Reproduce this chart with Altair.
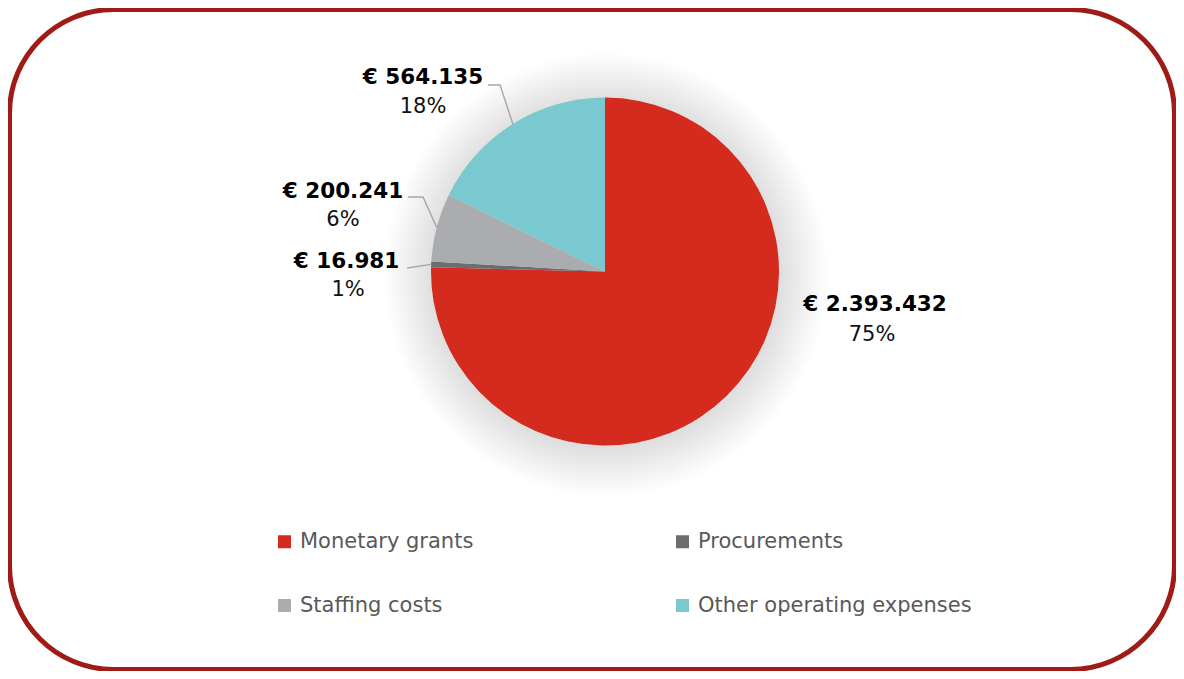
import math
import altair as alt
import pandas as pd

# ---------------- data ----------------
categories = ["Monetary grants", "Procurements", "Staffing costs", "Other operating expenses"]
amounts = [2393432, 16981, 200241, 564135]
colors = ["#D52B1E", "#6B6D70", "#ABACAF", "#7AC9D0"]

# ---------------- layout / style ----------------
W, H = 1168, 663
CX, CY, R = 597, 263.5, 174
FONT = "DejaVu Sans"

# label placement relative to the slice's outer mid point (style, not data)
LABEL_LAYOUT = {
    "Monetary grants": dict(bold=(148.5, -91), pct=(145.5, -61), leader=[]),
    "Procurements": dict(bold=(-84.6, -2.3), pct=(-83, 25.7), leader=[(-24, 3.7)]),
    "Staffing costs": dict(bold=(-93.7, -35.4), pct=(-93.7, -7.4),
                           leader=[(-13.7, -30.4), (-28.7, -30.4)]),
    "Other operating expenses": dict(bold=(-89.8, -45.9), pct=(-89.8, -16.9),
                                     leader=[(-12.8, -38.9), (-24.8, -38.9)]),
}

df = pd.DataFrame({"category": categories, "amount": amounts, "idx": range(len(categories))})
total = df["amount"].sum()
df["frac"] = df["amount"] / total
df["end"] = df["frac"].cumsum()
df["start"] = df["end"] - df["frac"]
df["mid"] = (df["start"] + df["end"]) / 2 * 2 * math.pi
df["ex"] = CX + R * df["mid"].apply(math.sin)
df["ey"] = CY - R * df["mid"].apply(math.cos)
df["amount_label"] = df["amount"].apply(lambda a: "€ " + f"{a:,}".replace(",", "."))
df["pct_label"] = df["frac"].apply(lambda f: f"{round(f * 100)}%")
df["bx"] = [ex + LABEL_LAYOUT[c]["bold"][0] for c, ex in zip(df["category"], df["ex"])]
df["by"] = [ey + LABEL_LAYOUT[c]["bold"][1] for c, ey in zip(df["category"], df["ey"])]
df["px"] = [ex + LABEL_LAYOUT[c]["pct"][0] for c, ex in zip(df["category"], df["ex"])]
df["py"] = [ey + LABEL_LAYOUT[c]["pct"][1] for c, ey in zip(df["category"], df["ey"])]

leader_rows = []
for _, row in df.iterrows():
    pts = LABEL_LAYOUT[row["category"]]["leader"]
    if not pts:
        continue
    leader_rows.append({"category": row["category"], "seq": 0, "x": row["ex"], "y": row["ey"]})
    for i, (dx, dy) in enumerate(pts, start=1):
        leader_rows.append({"category": row["category"], "seq": i,
                            "x": row["ex"] + dx, "y": row["ey"] + dy})
leaders = pd.DataFrame(leader_rows)

# ---------------- layers ----------------
one = pd.DataFrame({"k": [0]})

shadow_layers = []
n_rings = 16
for k in range(n_rings):
    r = R + 2 + 3 * k
    shadow_layers.append(
        alt.Chart(one).mark_arc(radius=r, theta=0, theta2=2 * math.pi,
                                color="black", opacity=0.008)
        .encode(x=alt.value(CX + 1), y=alt.value(CY + 3))
    )

pie = alt.Chart(df).mark_arc(radius=R).encode(
    theta=alt.Theta("amount:Q", stack=True),
    order=alt.Order("idx:Q"),
    color=alt.Color(
        "category:N",
        scale=alt.Scale(domain=categories, range=colors),
        legend=alt.Legend(
            title=None, orient="none", legendX=266, legendY=523,
            direction="horizontal", columns=2,
            symbolType="square", symbolSize=169, symbolStrokeWidth=0,
            labelFont=FONT, labelFontSize=21, labelColor="#595959",
            labelOffset=5, columnPadding=198, rowPadding=42,
            padding=0, labelLimit=500,
        ),
    ),
    x=alt.value(CX),
    y=alt.value(CY),
)

leader_lines = alt.Chart(leaders).mark_line(color="#A6A6A6", strokeWidth=1.4).encode(
    x=alt.X("x:Q", scale=None, axis=None),
    y=alt.Y("y:Q", scale=None, axis=None),
    detail="category:N",
    order="seq:Q",
)

bold_labels = alt.Chart(df).mark_text(
    font=FONT, fontSize=21.5, fontWeight="bold", color="black",
    align="center", baseline="middle",
).encode(
    x=alt.X("bx:Q", scale=None, axis=None),
    y=alt.Y("by:Q", scale=None, axis=None),
    text="amount_label:N",
)

pct_labels = alt.Chart(df).mark_text(
    font=FONT, fontSize=21, color="#111111",
    align="center", baseline="middle",
).encode(
    x=alt.X("px:Q", scale=None, axis=None),
    y=alt.Y("py:Q", scale=None, axis=None),
    text="pct_label:N",
)

border = alt.Chart(one).mark_rect(
    fillOpacity=0, stroke="#9E1B16", strokeWidth=5, cornerRadius=104,
).encode(
    x=alt.value(1.5), x2=alt.value(W - 1.5),
    y=alt.value(1.5), y2=alt.value(H - 1.5),
)

chart = alt.layer(
    *shadow_layers, pie, leader_lines, bold_labels, pct_labels, border
).properties(
    width=W, height=H,
    autosize=alt.AutoSizeParams(type="none"),
    padding=0,
    background="white",
).configure_view(stroke=None)

chart.save("out.html", embed_options={"renderer": "svg", "actions": False})
